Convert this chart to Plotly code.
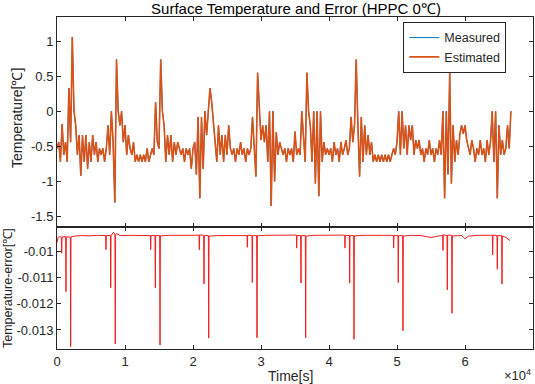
import numpy as np
import plotly.graph_objects as go

# ---------------- data ----------------
sample_interval_s = 250  # sampling step of the temperature series

temp_estimated = [
    -0.53, -0.44, -0.72, -0.18, -0.62, -0.44, -0.72, 0.33, -0.44, 1.06,
    0.00, -0.20, -0.62, -0.34, -0.92, -0.34, -0.72, -0.34, -0.82, -0.44,
    -0.72, -0.34, -0.62, -0.44, -0.72, -0.53, -0.62, -0.53, -0.72, -0.53,
    -0.20, -0.62, 0.00, -0.44, -1.30, 0.74, 0.00, -0.20, 0.00, -0.44,
    -0.20, -0.62, -0.34, -0.53, -0.62, -0.44, -0.72, -0.62, -0.72, -0.62,
    -0.72, -0.62, -0.72, -0.53, -0.72, -0.62, -0.53, -0.62, 0.13, -0.44,
    -0.53, 0.74, 0.00, -0.20, -0.72, -0.34, -0.62, -0.34, -0.72, -0.44,
    -0.62, -0.44, -0.53, -0.62, -0.53, -0.72, -0.53, -0.62, -0.53, -0.82,
    -0.53, -0.44, -0.90, -0.08, -1.24, -0.08, -0.82, 0.00, -0.34, 0.00,
    0.33, 0.13, -0.20, -0.44, -0.72, -0.20, -0.62, -0.34, -0.72, -0.34,
    -0.62, -0.20, -0.53, -0.62, -0.53, -0.72, -0.53, -0.62, -0.44, -0.62,
    -0.53, -0.72, -0.53, -0.62, -0.53, -0.08, -0.62, -0.93, 0.55, 0.00,
    -0.41, -0.20, -0.44, -0.20, -0.72, 0.00, -1.35, 0.00, -1.00, -0.30,
    -0.62, -0.44, -0.53, -0.62, -0.53, -0.72, -0.53, -0.62, -0.53, -0.72,
    -0.29, -0.62, -0.53, -0.62, 0.00, -0.44, -0.72, 0.55, 0.00, -0.20,
    -0.72, 0.00, -1.03, 0.00, -1.21, 0.00, -0.72, -0.44, -0.62, -0.53,
    -0.62, -0.53, -0.72, -0.44, -0.62, -0.53, -0.72, -0.44, -0.62, -0.53,
    -0.41, -0.62, -0.53, -0.08, -0.44, -0.20, 0.74, -0.20, -0.93, -0.08,
    -0.72, -0.20, -0.62, -0.34, -0.62, -0.44, -0.72, -0.62, -0.72, -0.62,
    -0.72, -0.62, -0.72, -0.62, -0.72, -0.62, -0.72, -0.62, -0.53, -0.62,
    -0.44, 0.00, -0.62, 0.00, -0.53, -0.20, -0.62, -0.20, -0.41, -0.20,
    -0.62, -0.41, -0.53, -0.41, -0.62, -0.53, -0.72, -0.53, -0.62, -0.41,
    -0.62, -0.53, -0.72, -0.53, -0.62, -0.41, -0.62, 0.00, -1.24, 0.00,
    -0.90, 0.55, -1.03, -0.20, -0.72, -0.41, -0.62, -0.32, -0.20, -0.32,
    -0.20, -0.41, -0.53, -0.62, -0.41, -0.53, -0.72, -0.53, -0.62, -0.41,
    -0.62, -0.53, -0.72, -0.41, -0.62, -0.44, 0.00, -0.72, 0.00, -1.24,
    -0.20, -0.62, -0.41, -0.62, -0.53, -0.20, -0.53, 0.00,
]
# measured curve lies under the estimated one in the picture
temp_measured = list(temp_estimated)

err_time_s = [
    0, 150, 400, 640, 690, 740, 1270, 1320, 1370, 1960, 2010, 2060,
    2600, 3600, 4800, 6000, 7150, 7200, 7250, 7850, 7900, 7950, 8300,
    8520, 8570, 8620, 8750, 9300, 10600, 12000, 13730, 13780, 13830,
    14410, 14460, 14510, 15100, 15150, 15200, 16500, 18000, 19500,
    20880, 20930, 20980, 21570, 21620, 21670, 22260, 22310, 22360,
    23500, 25000, 26500, 27940, 27990, 28040, 28670, 28720, 28770,
    29360, 29410, 29460, 30500, 32000, 33500, 35200, 35250, 35300,
    35830, 35880, 35930, 36520, 36570, 36620, 37800, 39500, 41000,
    42300, 42350, 42400, 42990, 43040, 43090, 43630, 43680, 43730,
    45000, 46500, 48000, 49460, 49510, 49560, 50140, 50190, 50240,
    50830, 50880, 50930, 52000, 53500, 55000, 56710, 56760, 56810,
    57350, 57400, 57450, 58040, 58090, 58140, 59500, 60000, 60500,
    62000, 64020, 64070, 64120, 64700, 64750, 64800, 65390, 65440,
    65490, 66000, 66600,
]
err_value = [
    -0.00965, -0.00945, -0.00942, -0.00944, -0.01005, -0.00943,
    -0.00942, -0.01153, -0.00943, -0.00944, -0.01364, -0.00943,
    -0.00940, -0.00938, -0.00939, -0.00937, -0.00938, -0.00992,
    -0.00938, -0.00937, -0.01138, -0.00938, -0.00925, -0.00935,
    -0.01354, -0.00936, -0.00930, -0.00938, -0.00937, -0.00938,
    -0.00938, -0.00992, -0.00938, -0.00937, -0.01138, -0.00938,
    -0.00938, -0.01358, -0.00939, -0.00937, -0.00938, -0.00937,
    -0.00936, -0.00992, -0.00935, -0.00937, -0.01123, -0.00938,
    -0.00938, -0.01331, -0.00940, -0.00938, -0.00937, -0.00938,
    -0.00938, -0.00983, -0.00936, -0.00938, -0.01118, -0.00938,
    -0.00938, -0.01330, -0.00939, -0.00937, -0.00936, -0.00937,
    -0.00936, -0.00986, -0.00937, -0.00938, -0.01120, -0.00938,
    -0.00938, -0.01330, -0.00940, -0.00937, -0.00936, -0.00937,
    -0.00936, -0.00986, -0.00937, -0.00938, -0.01120, -0.00938,
    -0.00938, -0.01336, -0.00939, -0.00937, -0.00938, -0.00937,
    -0.00937, -0.00986, -0.00938, -0.00938, -0.01118, -0.00938,
    -0.00938, -0.01303, -0.00940, -0.00937, -0.00938, -0.00945,
    -0.00937, -0.00995, -0.00935, -0.00938, -0.01146, -0.00936,
    -0.00937, -0.01236, -0.00939, -0.00938, -0.00950, -0.00940,
    -0.00937, -0.00937, -0.01012, -0.00936, -0.00938, -0.01067,
    -0.00938, -0.00938, -0.01124, -0.00940, -0.00945, -0.00957,
]

x_tick_values = [0, 10000, 20000, 30000, 40000, 50000, 60000]
x_tick_labels = ["0", "1", "2", "3", "4", "5", "6"]
y1_tick_values = [-1.5, -1, -0.5, 0, 0.5, 1]
y1_tick_labels = ["-1.5", "-1", "-0.5", "0", "0.5", "1"]
y2_tick_values = [-0.013, -0.012, -0.011, -0.01]
y2_tick_labels = ["-0.013", "-0.012", "-0.011", "-0.01"]

time_s = np.arange(len(temp_estimated)) * sample_interval_s

# ---------------- figure ----------------
FONT = "Liberation Sans, Arial, sans-serif"
AX = "#262626"

fig = go.Figure()
fig.add_trace(go.Scatter(x=time_s, y=temp_measured, mode="lines", name="Measured",
                         line=dict(color="#0072BD", width=1),
                         xaxis="x", yaxis="y"))
fig.add_trace(go.Scatter(x=time_s, y=temp_estimated, mode="lines", name="Estimated",
                         line=dict(color="#D95319", width=1.6),
                         xaxis="x", yaxis="y"))
fig.add_trace(go.Scatter(x=err_time_s, y=err_value, mode="lines", name="Error",
                         line=dict(color="#F01E1E", width=1), xaxis="x2", yaxis="y2",
                         showlegend=False))

split = (349 - 227) / 332.0
common_axis = dict(showline=True, linecolor=AX, linewidth=1, mirror="ticks",
                   ticks="inside", ticklen=4, tickcolor=AX, showgrid=False,
                   zeroline=False, tickfont=dict(family=FONT, size=13, color=AX))

fig.update_layout(
    width=535, height=384,
    margin=dict(l=57, r=2, t=17, b=35),
    paper_bgcolor="white", plot_bgcolor="white",
    font=dict(family=FONT, size=13, color=AX),
    xaxis=dict(domain=[0, 1], anchor="y", range=[0, 70000], tickvals=x_tick_values,
               showticklabels=False, **common_axis),
    xaxis2=dict(domain=[0, 1], anchor="y2", range=[0, 70000], matches="x",
                tickvals=x_tick_values, ticktext=x_tick_labels, **common_axis),
    yaxis=dict(domain=[split, 1], anchor="x", range=[-1.65, 1.345],
               tickvals=y1_tick_values, ticktext=y1_tick_labels, **common_axis),
    yaxis2=dict(domain=[0, split], anchor="x2", range=[-0.01373, -0.00905],
                tickvals=y2_tick_values, ticktext=y2_tick_labels, **common_axis),
    legend=dict(x=0.944, y=0.985, xanchor="right", yanchor="top",
                bgcolor="white", bordercolor=AX, borderwidth=1,
                font=dict(family=FONT, size=12.5, color=AX)),
    title=dict(text="Surface Temperature and Error (HPPC 0℃)", x=296 / 535,
               xanchor="center", y=1 - 8.5 / 384, yanchor="middle",
               font=dict(family=FONT, size=15, color="#000000")),
    annotations=[
        dict(text="Temperature[℃]", xref="paper", yref="paper",
             x=(17 - 57) / 476, y=1 - (118 - 17) / 332, textangle=-90,
             showarrow=False, xanchor="center", yanchor="middle",
             font=dict(family=FONT, size=14, color=AX)),
        dict(text="Temperature-error[℃]", xref="paper", yref="paper",
             x=(8 - 57) / 476, y=1 - (288 - 17) / 332, textangle=-90,
             showarrow=False, xanchor="center", yanchor="middle",
             font=dict(family=FONT, size=12.5, color=AX)),
        dict(text="Time[s]", xref="paper", yref="paper",
             x=(290 - 57) / 476, y=1 - (376 - 17) / 332,
             showarrow=False, xanchor="center", yanchor="middle",
             font=dict(family=FONT, size=14, color=AX)),
        dict(text="×10<sup>4</sup>", xref="paper", yref="paper",
             x=(533 - 57) / 476, y=1 - (375 - 17) / 332,
             showarrow=False, xanchor="right", yanchor="middle",
             font=dict(family=FONT, size=13, color=AX)),
    ],
)

fig.write_html("out.html", config={"displayModeBar": False},
               post_script="document.body.style.margin='0px';")
